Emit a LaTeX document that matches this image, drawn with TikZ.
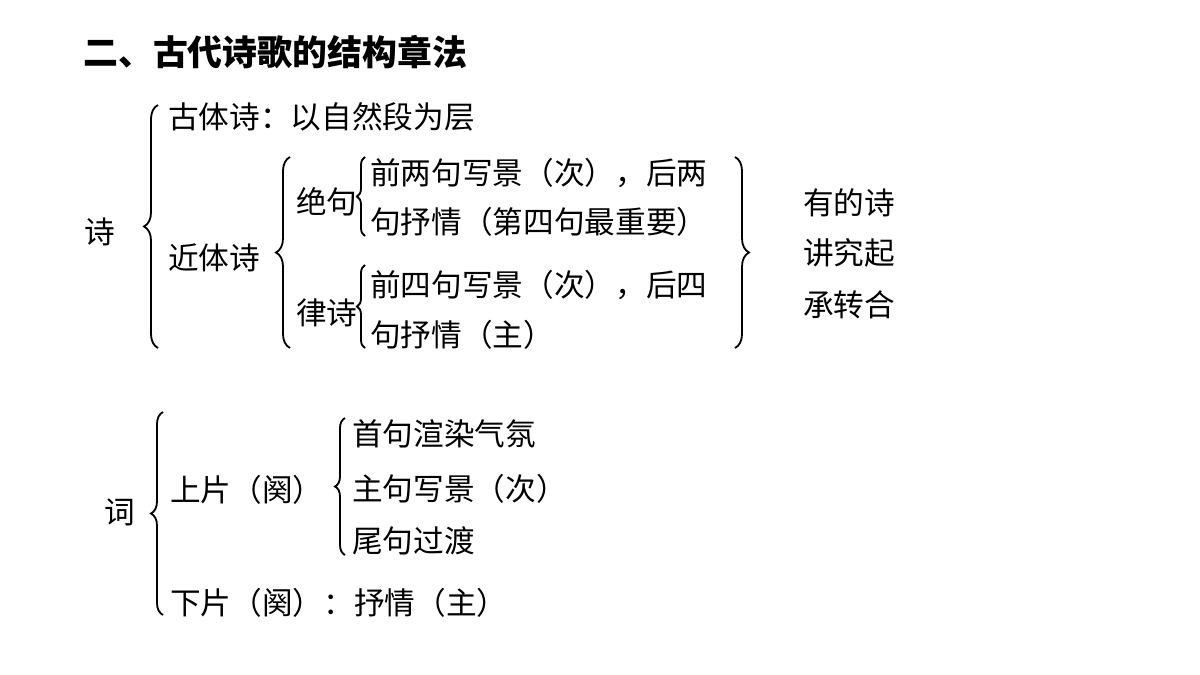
\documentclass[tikz,border=0pt]{standalone}
\usepackage{fontspec}
\setmainfont{Noto Sans CJK SC}
\usetikzlibrary{decorations.pathreplacing}
\begin{document}
\begin{tikzpicture}[x=0.025cm,y=-0.025cm,
  txt/.style={anchor=west,inner sep=0pt,font=\fontsize{21.8pt}{24pt}\selectfont},
  br/.style={decorate,decoration={brace,amplitude=#1},line width=1.3pt},
  br/.default=0.3cm]
\useasboundingbox (0,0) rectangle (1200,675);
\node[anchor=west,inner sep=0pt,font=\fontsize{24.8pt}{26pt}\selectfont\bfseries] (title) at (83,52) {二、古代诗歌的结构章法};
\node[txt] (shi) at (84,232) {诗};
\draw[br=0.35cm] (158,348) -- (158,105);
\node[txt] (guti) at (168,117) {古体诗：以自然段为层};
\node[txt] (jinti) at (168,258) {近体诗};
\draw[br=0.35cm] (290,348) -- (290,157);
\node[txt] (jueju) at (296,202) {绝句};
\draw[br=0.2cm] (365,236) -- (365,157);
\node[txt] (j1) at (370,173) {前两句写景（次），后两};
\node[txt] (j2) at (370,222) {句抒情（第四句最重要）};
\node[txt] (lvshi) at (296,313) {律诗};
\draw[br=0.2cm] (365,348) -- (365,265);
\node[txt] (l1) at (370,285) {前四句写景（次），后四};
\node[txt] (l2) at (370,335) {句抒情（主）};
\draw[br=0.35cm] (735,157) -- (735,348);
\node[txt] (r1) at (803,203) {有的诗};
\node[txt] (r2) at (803,253) {讲究起};
\node[txt] (r3) at (803,305) {承转合};
\node[txt] (ci) at (104,512) {词};
\draw[br=0.3cm] (163,615) -- (163,412);
\node[txt] (shang) at (170,490) {上片（阕）};
\draw[br=0.25cm] (345,555) -- (345,418);
\node[txt] (s1) at (352,434) {首句渲染气氛};
\node[txt] (s2) at (352,489) {主句写景（次）};
\node[txt] (s3) at (352,541) {尾句过渡};
\node[txt] (xia) at (170,603) {下片（阕）：抒情（主）};
\end{tikzpicture}
\end{document}
